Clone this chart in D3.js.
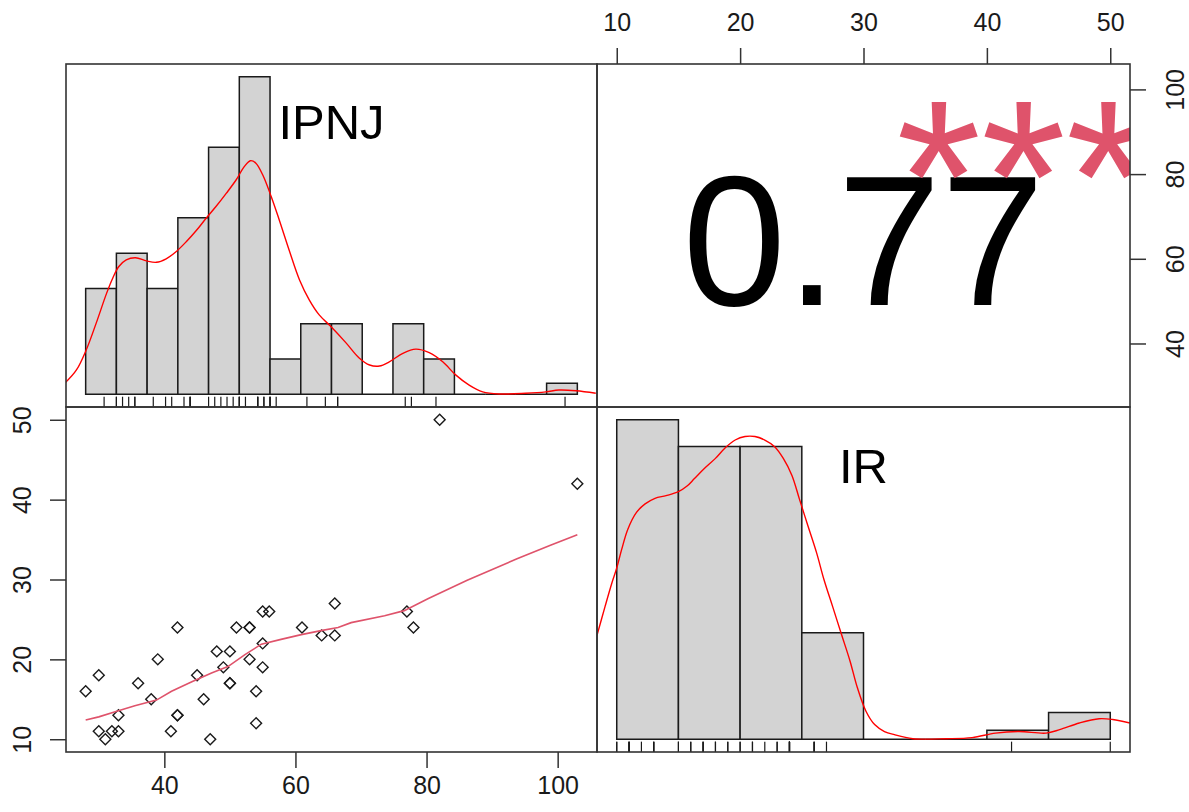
<!DOCTYPE html>
<html>
<head>
<meta charset="utf-8">
<script src="https://cdn.jsdelivr.net/npm/d3@7"></script>
<style>
  body { margin: 0; background: #fff; }
  svg { display: block; }
  text { font-family: "Liberation Sans", Arial, sans-serif; }
</style>
</head>
<body>
<svg width="1189" height="812"></svg>
<script>
var ipnj = [28, 30, 30, 31, 32, 33, 33, 36, 38, 39, 41, 42, 42, 42, 45, 46, 47, 48, 49, 50,
            50, 50, 51, 53, 53, 53, 54, 54, 55, 55, 55, 56, 61, 64, 66, 66, 77, 78, 82, 103];
var ir   = [16, 18, 11, 10, 11, 13, 11, 17, 15, 20, 11, 24, 13, 13, 18, 15, 10, 21, 19, 21,
            17, 17, 24, 24, 24, 20, 16, 12, 26, 22, 19, 26, 24, 23, 27, 23, 26, 24, 50, 42];

// histogram bins (bar heights read as counts)
var ipnjBreaks = [25, 30, 35, 40, 45, 50, 55, 60, 65, 70, 75, 80, 85, 90, 95, 100, 105];
var ipnjCounts = [3, 4, 3, 5, 7, 9, 1, 2, 2, 0, 2, 1, 0, 0, 0, 0.31];
var irBreaks = [10, 15, 20, 25, 30, 35, 40, 45, 50];
var irCounts = [12, 11, 11, 4, 0, 0, 0.34, 1];

// density curves (in count units)
var ipnjDensX = [21.7, 23.5, 25.1, 26.7, 28.4, 29.4, 30.4, 31.6, 33.1, 34.9, 36.5, 38.1, 39.7, 41.4, 43.0, 44.6,
                 46.2, 47.9, 49.5, 50.8, 51.8, 52.7, 53.8, 55.2, 56.5, 58.1, 59.8, 61.4, 63.0, 64.9, 67.4, 69.5,
                 71.2, 72.8, 74.4, 76.6, 78.7, 80.9, 83.1, 85.2, 87.4, 89.6, 92.3, 96.6, 99.9, 102.0, 104.8, 108.0];
var ipnjDensY = [0.33, 0.69, 1.26, 2.01, 2.86, 3.29, 3.62, 3.81, 3.87, 3.78, 3.74, 3.84, 4.04, 4.33, 4.64, 4.99,
                 5.32, 5.70, 6.08, 6.45, 6.62, 6.55, 6.22, 5.60, 4.94, 4.09, 3.24, 2.67, 2.25, 1.92, 1.45, 1.03,
                 0.83, 0.80, 0.92, 1.16, 1.28, 1.18, 0.92, 0.55, 0.26, 0.07, 0.01, 0.03, 0.07, 0.12, 0.10, 0.03];
var irDensX = [8.4, 9.05, 9.6, 10.0, 10.4, 10.9, 11.6, 12.3, 13.1, 14.0, 15.0, 15.7, 16.3, 17.1, 18.0, 18.8,
               19.6, 20.4, 21.2, 22.0, 22.8, 23.5, 24.2, 24.8, 25.5, 26.2, 26.8, 27.5, 28.2, 28.9, 29.5, 30.2,
               30.9, 31.7, 32.5, 34.0, 36.7, 38.8, 40.7, 42.6, 44.8, 45.9, 47.5, 49.1, 50.2, 51.6];
var irDensY = [3.90, 4.98, 5.86, 6.43, 7.13, 7.89, 8.52, 8.84, 9.05, 9.15, 9.30, 9.51, 9.79, 10.17, 10.55, 10.95,
               11.24, 11.37, 11.37, 11.24, 10.99, 10.55, 9.91, 9.03, 8.01, 7.00, 5.99, 4.98, 3.96, 2.95, 1.94, 1.05,
               0.55, 0.29, 0.17, 0.02, 0.02, 0.06, 0.23, 0.29, 0.23, 0.36, 0.61, 0.77, 0.74, 0.61];

// smoother in the scatter panel
var loessX = [28, 30, 32.5, 35.5, 38.8, 41.1, 44.2, 47.2, 49.7, 52.3, 54.8, 57.8, 60.9, 63.9, 66.5, 68.5,
              73.6, 76.6, 80.2, 86.2, 93.8, 98.9, 103];
var loessY = [12.4, 12.8, 13.45, 14.2, 14.9, 16.0, 17.2, 18.3, 19.1, 20.6, 21.9, 22.5, 23.1, 23.6, 24.0, 24.6,
              25.45, 26.1, 27.6, 29.9, 32.6, 34.3, 35.6];

var ipnjTicks = [40, 60, 80, 100];
var irTicks = [10, 20, 30, 40, 50];
var varNames = ["IPNJ", "IR"];
var corrLabel = "0.77";
var signifLabel = "***";

var svg = d3.select("svg");
var colX = [66, 597, 1130], rowY = [64, 407, 752];
var fnt = '"Liberation Sans", Arial, sans-serif';

// R style 4% range extension
function ext(lo, hi) { var d = (hi - lo) * 0.04; return [lo - d, hi + d]; }

var defs = svg.append("defs");
function clipFor(id, c, r) {
    defs.append("clipPath").attr("id", id)
        .append("rect")
        .attr("x", colX[c]).attr("y", rowY[r])
        .attr("width", colX[c + 1] - colX[c]).attr("height", rowY[r + 1] - rowY[r]);
    return "url(#" + id + ")";
}

//scales for the scatter panel / outer axes
var xIpnj = d3.scaleLinear().domain(ext(d3.min(ipnj), d3.max(ipnj))).range([colX[0], colX[1]]);
var yIr = d3.scaleLinear().domain(ext(d3.min(ir), d3.max(ir))).range([rowY[2], rowY[1]]);
var xIr = d3.scaleLinear().domain(ext(d3.min(ir), d3.max(ir))).range([colX[1], colX[2]]);
var yIpnj = d3.scaleLinear().domain(ext(d3.min(ipnj), d3.max(ipnj))).range([rowY[1], rowY[0]]);

// draw a diagonal histogram panel
function drawHist(c, r, breaks, counts, densX, densY, values, label, id) {
    var hx = d3.scaleLinear().domain(ext(breaks[0], breaks[breaks.length - 1])).range([colX[c], colX[c + 1]]);
    var hy = d3.scaleLinear().domain(ext(0, d3.max(counts))).range([rowY[r + 1], rowY[r]]);
    var g = svg.append("g").attr("clip-path", clipFor(id, c, r));

    g.selectAll(".bar")
        .data(counts)
        .enter().append("path")
        .attr("class", "bar")
        .attr("d", function (d, i) {
            var x0 = hx(breaks[i]), x1 = hx(breaks[i + 1]), y0 = hy(0), y1 = hy(d);
            return "M" + x0 + "," + y0 + "V" + y1 + "H" + x1 + "V" + y0 + "Z";
        })
        .attr("fill", "#d3d3d3")
        .attr("stroke", "#1a1a1a")
        .attr("stroke-width", 1.5);

    var pts = densX.map(function (d, i) { return [d, densY[i]]; });
    g.append("path")
        .datum(pts)
        .attr("fill", "none")
        .attr("stroke", "#ff0000")
        .attr("stroke-width", 1.4)
        .attr("d", d3.line()
            .x(function (d) { return hx(d[0]); })
            .y(function (d) { return hy(d[1]); })
            .curve(d3.curveCatmullRom));

    //rug
    var rugLen = (rowY[r + 1] - rowY[r]) * 0.03;
    g.selectAll(".rug")
        .data(values)
        .enter().append("line")
        .attr("class", "rug")
        .attr("x1", function (d) { return hx(d); })
        .attr("x2", function (d) { return hx(d); })
        .attr("y1", rowY[r + 1])
        .attr("y2", rowY[r + 1] - rugLen)
        .attr("stroke", "#1a1a1a")
        .attr("stroke-width", 1.2);

    var ly = rowY[r + 1] - (rowY[r + 1] - rowY[r]) * (0.5 + 1 / 3);
    svg.append("text")
        .attr("x", (colX[c] + colX[c + 1]) / 2)
        .attr("y", ly + 49 * 0.37)
        .attr("text-anchor", "middle")
        .attr("font-size", "49px")
        .attr("fill", "#000")
        .text(label);
}

drawHist(0, 0, ipnjBreaks, ipnjCounts, ipnjDensX, ipnjDensY, ipnj, varNames[0], "clipA");
drawHist(1, 1, irBreaks, irCounts, irDensX, irDensY, ir, varNames[1], "clipD");

// scatter panel
var sc = svg.append("g").attr("clip-path", clipFor("clipC", 0, 1));
var pairs = ipnj.map(function (d, i) { return [d, ir[i]]; });
sc.selectAll(".pt")
    .data(pairs)
    .enter().append("path")
    .attr("class", "pt")
    .attr("d", d3.symbol(d3.symbolSquare, 60))
    .attr("transform", function (d) { return "translate(" + xIpnj(d[0]) + "," + yIr(d[1]) + ") rotate(45)"; })
    .attr("fill", "none")
    .attr("stroke", "#1a1a1a")
    .attr("stroke-width", 1.4);

sc.append("path")
    .datum(loessX.map(function (d, i) { return [d, loessY[i]]; }))
    .attr("fill", "none")
    .attr("stroke", "#df536b")
    .attr("stroke-width", 1.6)
    .attr("d", d3.line()
        .x(function (d) { return xIpnj(d[0]); })
        .y(function (d) { return yIr(d[1]); }));

// correlation panel
var ux = d3.scaleLinear().domain([0, 1]).range([colX[1], colX[2]]);
var uy = d3.scaleLinear().domain([0, 1]).range([rowY[1], rowY[0]]);
var cor = svg.append("g").attr("clip-path", clipFor("clipB", 1, 0));
cor.append("text")
    .attr("x", ux(0.5))
    .attr("y", uy(0.5) + 69)
    .attr("text-anchor", "middle")
    .attr("font-size", "186px")
    .attr("fill", "#000")
    .text(corrLabel);
cor.append("text")
    .attr("x", ux(0.8))
    .attr("y", uy(0.8) + 119)
    .attr("text-anchor", "middle")
    .attr("font-size", "218px")
    .attr("fill", "#df536b")
    .text(signifLabel);

// axes
function styleAxis(g) {
    g.select(".domain").remove();
    g.selectAll(".tick line").attr("stroke", "#333").attr("stroke-width", 1.5);
    g.selectAll(".tick text").attr("font-size", "25px").attr("font-family", fnt).attr("fill", "#1a1a1a");
}

svg.append("g")
    .attr("transform", "translate(0," + rowY[2] + ")")
    .call(d3.axisBottom(xIpnj).tickValues(ipnjTicks).tickSize(16).tickPadding(8).tickFormat(d3.format("d")))
    .call(styleAxis);

svg.append("g")
    .attr("transform", "translate(0," + rowY[0] + ")")
    .call(d3.axisTop(xIr).tickValues(irTicks).tickSize(16).tickPadding(17).tickFormat(d3.format("d")))
    .call(styleAxis);

svg.append("g")
    .attr("transform", "translate(" + colX[0] + ",0)")
    .call(d3.axisLeft(yIr).tickValues(irTicks).tickSize(16).tickFormat(d3.format("d")))
    .call(styleAxis)
    .selectAll(".tick text")
    .attr("x", null).attr("dy", null)
    .attr("text-anchor", "middle")
    .attr("dominant-baseline", "central")
    .attr("transform", "translate(-44,0) rotate(-90)");

svg.append("g")
    .attr("transform", "translate(" + colX[2] + ",0)")
    .call(d3.axisRight(yIpnj).tickValues(ipnjTicks).tickSize(16).tickFormat(d3.format("d")))
    .call(styleAxis)
    .selectAll(".tick text")
    .attr("x", null).attr("dy", null)
    .attr("text-anchor", "middle")
    .attr("dominant-baseline", "central")
    .attr("transform", "translate(45,0) rotate(-90)");

// panel boxes
for (var r = 0; r < 2; r++) {
    for (var c = 0; c < 2; c++) {
        svg.append("rect")
            .attr("x", colX[c]).attr("y", rowY[r])
            .attr("width", colX[c + 1] - colX[c]).attr("height", rowY[r + 1] - rowY[r])
            .attr("fill", "none")
            .attr("stroke", "#333")
            .attr("stroke-width", 1.6);
    }
}
</script>
</body>
</html>
